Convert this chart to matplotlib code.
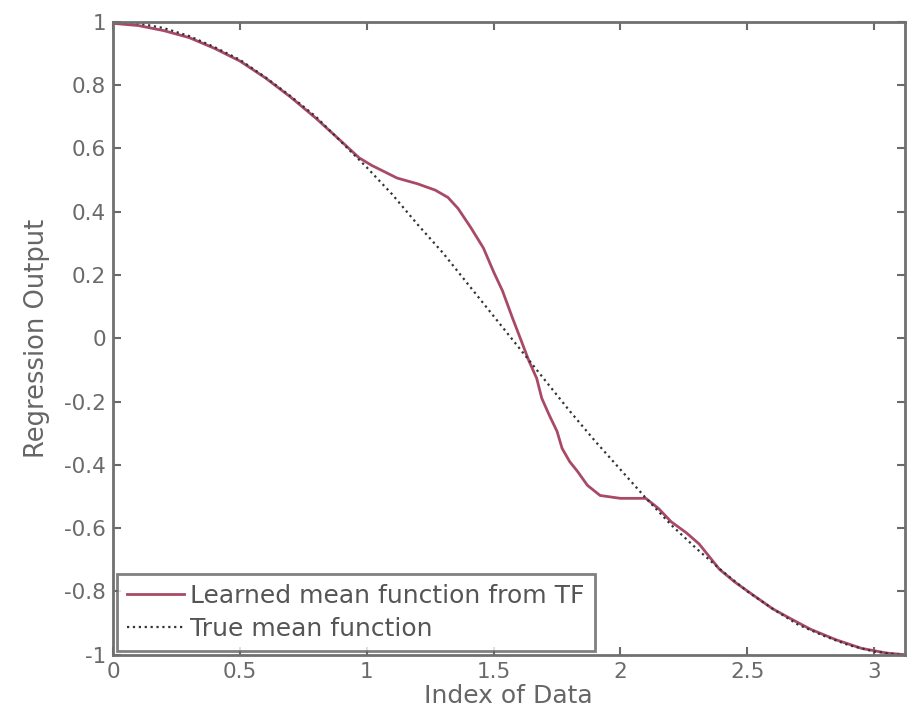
import matplotlib
matplotlib.use("Agg")
import matplotlib.pyplot as plt

# True mean function
x_true = [0.0, 0.1, 0.2, 0.3, 0.4, 0.5, 0.6, 0.7, 0.8, 0.9, 1.0, 1.1, 1.2, 1.3, 1.4, 1.5,
          1.6, 1.7, 1.8, 1.9, 2.0, 2.1, 2.2, 2.3, 2.4, 2.5, 2.6, 2.7, 2.8, 2.9, 3.0, 3.1]
y_true = [1.00, 0.995, 0.98, 0.955, 0.92, 0.88, 0.825, 0.765, 0.70, 0.62, 0.54, 0.455,
          0.36, 0.27, 0.17, 0.07, -0.03, -0.13, -0.23, -0.325, -0.415, -0.505, -0.59,
          -0.665, -0.735, -0.80, -0.855, -0.905, -0.94, -0.97, -0.99, -1.00]

# Learned mean function from TF
x_learn = [0.0, 0.1, 0.2, 0.3, 0.4, 0.5, 0.6, 0.7, 0.8, 0.9, 0.97, 1.02, 1.12, 1.2,
           1.27, 1.32, 1.36, 1.41, 1.46, 1.50, 1.535, 1.575, 1.61, 1.64, 1.67, 1.69,
           1.72, 1.75, 1.77, 1.80, 1.83, 1.87, 1.92, 2.0, 2.10, 2.15, 2.20, 2.26, 2.31,
           2.39, 2.45, 2.52, 2.60, 2.67, 2.75, 2.85, 2.95, 3.05, 3.12]
y_learn = [0.995, 0.988, 0.972, 0.95, 0.916, 0.876, 0.823, 0.762, 0.695, 0.622, 0.57,
           0.546, 0.506, 0.488, 0.468, 0.445, 0.41, 0.35, 0.285, 0.21, 0.15, 0.063,
           -0.01, -0.073, -0.127, -0.19, -0.244, -0.294, -0.348, -0.39, -0.42, -0.465,
           -0.497, -0.506, -0.506, -0.538, -0.58, -0.615, -0.65, -0.73, -0.77, -0.81,
           -0.855, -0.886, -0.92, -0.953, -0.98, -0.995, -1.0]

x_ticks = [0, 0.5, 1, 1.5, 2, 2.5, 3]
x_tick_labels = ["0", "0.5", "1", "1.5", "2", "2.5", "3"]
y_ticks = [-1, -0.8, -0.6, -0.4, -0.2, 0, 0.2, 0.4, 0.6, 0.8, 1]
y_tick_labels = ["-1", "-0.8", "-0.6", "-0.4", "-0.2", "0", "0.2", "0.4", "0.6", "0.8", "1"]

plt.rcParams['font.family'] = ['DejaVu Sans']

fig = plt.figure(figsize=(9.11, 7.25), dpi=100)
ax = fig.add_axes([0.124, 0.097, 0.869, 0.873])

ax.plot(x_learn, y_learn, color='#a84a66', linewidth=2.0, label='Learned mean function from TF')
ax.plot(x_true, y_true, color='#333333', linestyle=':', linewidth=1.6, label='True mean function')

ax.set_xlim(0, 3.12)
ax.set_ylim(-1, 1)
ax.set_xticks(x_ticks)
ax.set_xticklabels(x_tick_labels)
ax.set_yticks(y_ticks)
ax.set_yticklabels(y_tick_labels)
ax.tick_params(direction='in', top=True, right=True, labelsize=15.5, colors='#6a6a6a',
               length=6, width=1.5, pad=5)
for s in ax.spines.values():
    s.set_color('#707070')
    s.set_linewidth(2.0)

ax.set_xlabel('Index of Data', fontsize=18, color='#666666', labelpad=2)
ax.set_ylabel('Regression Output', fontsize=18.5, color='#666666', labelpad=10)

leg = ax.legend(loc='lower left', fontsize=18, frameon=True, fancybox=False,
                borderaxespad=0.15, handlelength=2.3, handletextpad=0.25,
                labelspacing=0.35, borderpad=0.4)
leg.get_frame().set_edgecolor('#606060')
leg.get_frame().set_linewidth(2.0)
for t in leg.get_texts():
    t.set_color('#555555')

fig.savefig('out.png', dpi=100)
